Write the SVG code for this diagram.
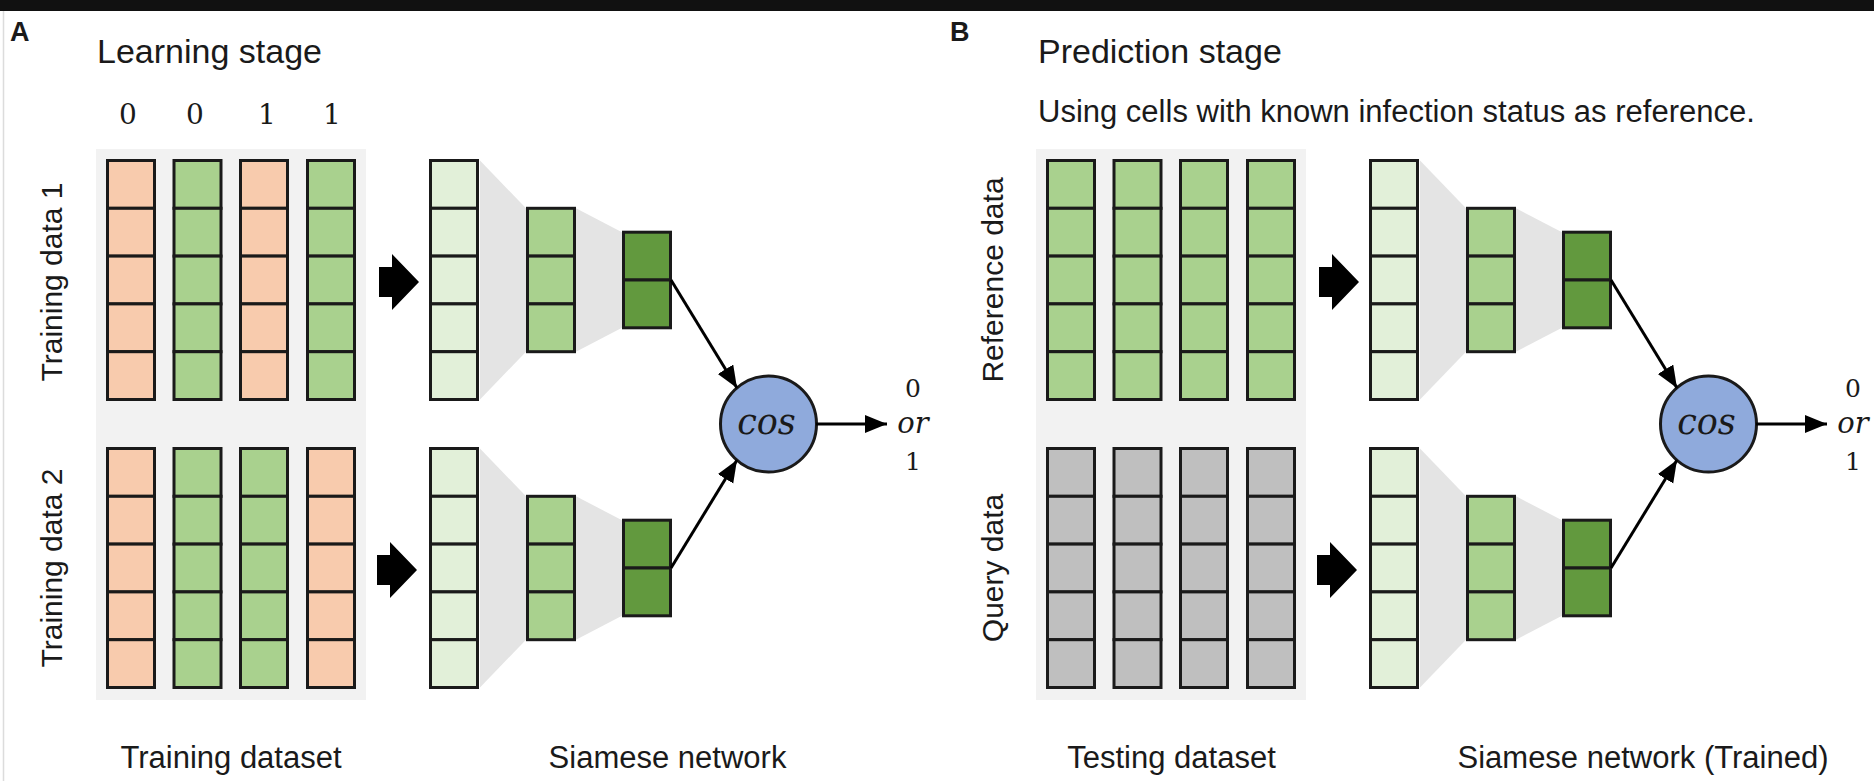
<svg xmlns="http://www.w3.org/2000/svg" width="1874" height="781" viewBox="0 0 1874 781">
<defs>
<style>
.sans{font-family:"Liberation Sans",Arial,sans-serif;fill:#1a1a1a}
.serif{font-family:"DejaVu Serif","Liberation Serif",serif;fill:#1a1a1a}
.cell{stroke:#1a1a1a;stroke-width:3}
.sal{fill:#f8cbad}
.grn{fill:#a9d18e}
.lgr{fill:#e2f0d9}
.dgr{fill:#62993e}
.gry{fill:#bfbfbf}
.panel{fill:#f2f2f2}
.shade{fill:#e4e4e4}
.conn{stroke:#000;stroke-width:3;fill:none}
.cos{fill:#8faadc;stroke:#1a1a1a;stroke-width:3}
</style>
<marker id="ah" markerUnits="userSpaceOnUse" markerWidth="24" markerHeight="20" refX="22" refY="9" orient="auto">
<path d="M0,0 L22,9 L0,18 Z" fill="#000"/>
</marker>
<g id="col5s" class="cell">
<rect x="0" y="0" width="47" height="47.8"/><rect x="0" y="47.8" width="47" height="47.8"/><rect x="0" y="95.6" width="47" height="47.8"/><rect x="0" y="143.4" width="47" height="47.8"/><rect x="0" y="191.2" width="47" height="47.8"/>
</g>
<g id="col3" class="cell grn">
<rect x="0" y="0" width="47" height="47.8"/><rect x="0" y="47.8" width="47" height="47.8"/><rect x="0" y="95.6" width="47" height="47.8"/>
</g>
<g id="col2" class="cell dgr">
<rect x="0" y="0" width="47" height="47.8"/><rect x="0" y="47.8" width="47" height="47.8"/>
</g>
<path id="blk" d="M0,-15 L13,-15 L13,-28 L40,0 L13,28 L13,15 L0,15 Z" fill="#000"/>
</defs>
<rect x="0" y="0" width="1874" height="781" fill="#ffffff"/>
<rect x="0" y="0" width="1874" height="11" fill="#111111"/>
<line x1="3.5" y1="11" x2="3.5" y2="781" stroke="#dcdcdc" stroke-width="1.5"/>

<!-- ================= PANEL A ================= -->
<g id="panelA-labels">
<text x="10" y="41" class="sans" font-size="27" font-weight="bold">A</text>
<text x="97" y="62.7" class="sans" font-size="34">Learning stage</text>
<text x="128" y="124" class="serif" font-size="28" text-anchor="middle">0</text>
<text x="195" y="124" class="serif" font-size="28" text-anchor="middle">0</text>
<text x="267" y="124" class="serif" font-size="28" text-anchor="middle">1</text>
<text x="332" y="124" class="serif" font-size="28" text-anchor="middle">1</text>
<text transform="translate(62,282) rotate(-90)" class="sans" font-size="30" text-anchor="middle">Training data 1</text>
<text transform="translate(62,568) rotate(-90)" class="sans" font-size="30" text-anchor="middle">Training data 2</text>
<text x="231" y="768" class="sans" font-size="31" text-anchor="middle">Training dataset</text>
<text x="667.5" y="768" class="sans" font-size="31" text-anchor="middle">Siamese network</text>
</g>

<g id="trainingDataset">
<rect x="96" y="149" width="270" height="551" class="panel"/>
<use href="#col5s" x="107.5" y="160.5" class="sal"/>
<use href="#col5s" x="174" y="160.5" class="grn"/>
<use href="#col5s" x="240.5" y="160.5" class="sal"/>
<use href="#col5s" x="307.5" y="160.5" class="grn"/>
<use href="#col5s" x="107.5" y="448.5" class="sal"/>
<use href="#col5s" x="174" y="448.5" class="grn"/>
<use href="#col5s" x="240.5" y="448.5" class="grn"/>
<use href="#col5s" x="307.5" y="448.5" class="sal"/>
</g>

<g id="siameseA-top">
<polygon points="480,160.5 526,208.3 526,351.7 480,399.5" class="shade"/>
<polygon points="576,208.3 622,232.2 622,327.8 576,351.7" class="shade"/>
<use href="#col5s" x="430.5" y="160.5" class="lgr"/>
<use href="#col3" x="527.5" y="208.3"/>
<use href="#col2" x="623.5" y="232.2"/>
</g>
<g id="siameseA-bottom">
<polygon points="480,448.5 526,496.3 526,639.7 480,687.5" class="shade"/>
<polygon points="576,496.3 622,520.2 622,615.8 576,639.7" class="shade"/>
<use href="#col5s" x="430.5" y="448.5" class="lgr"/>
<use href="#col3" x="527.5" y="496.3"/>
<use href="#col2" x="623.5" y="520.2"/>
</g>

<g id="cosA">
<circle cx="768.5" cy="424" r="48" class="cos"/>
<text x="766.5" y="434" class="serif" font-size="35" font-style="italic" text-anchor="middle">cos</text>
</g>
<g id="outputA">
<text x="913" y="397" class="serif" font-size="25" text-anchor="middle">0</text>
<text x="913" y="433" class="serif" font-size="29" font-style="italic" text-anchor="middle">or</text>
<text x="913" y="470" class="serif" font-size="25" text-anchor="middle">1</text>
</g>

<!-- ================= PANEL B ================= -->
<g id="panelB-labels">
<text x="950" y="41" class="sans" font-size="27" font-weight="bold">B</text>
<text x="1038" y="62.7" class="sans" font-size="34">Prediction stage</text>
<text x="1038" y="121.7" class="sans" font-size="31">Using cells with known infection status as reference.</text>
<text transform="translate(1003,280) rotate(-90)" class="sans" font-size="30" text-anchor="middle">Reference data</text>
<text transform="translate(1003,568) rotate(-90)" class="sans" font-size="30" text-anchor="middle">Query data</text>
<text x="1171.5" y="768" class="sans" font-size="31" text-anchor="middle">Testing dataset</text>
<text x="1643" y="768" class="sans" font-size="31" text-anchor="middle">Siamese network (Trained)</text>
</g>

<g id="testingDataset">
<rect x="1036" y="149" width="270" height="551" class="panel"/>
<use href="#col5s" x="1047.5" y="160.5" class="grn"/>
<use href="#col5s" x="1114" y="160.5" class="grn"/>
<use href="#col5s" x="1180.5" y="160.5" class="grn"/>
<use href="#col5s" x="1247.5" y="160.5" class="grn"/>
<use href="#col5s" x="1047.5" y="448.5" class="gry"/>
<use href="#col5s" x="1114" y="448.5" class="gry"/>
<use href="#col5s" x="1180.5" y="448.5" class="gry"/>
<use href="#col5s" x="1247.5" y="448.5" class="gry"/>
</g>

<g id="siameseB-top">
<polygon points="1420,160.5 1466,208.3 1466,351.7 1420,399.5" class="shade"/>
<polygon points="1516,208.3 1562,232.2 1562,327.8 1516,351.7" class="shade"/>
<use href="#col5s" x="1370.5" y="160.5" class="lgr"/>
<use href="#col3" x="1467.5" y="208.3"/>
<use href="#col2" x="1563.5" y="232.2"/>
</g>
<g id="siameseB-bottom">
<polygon points="1420,448.5 1466,496.3 1466,639.7 1420,687.5" class="shade"/>
<polygon points="1516,496.3 1562,520.2 1562,615.8 1516,639.7" class="shade"/>
<use href="#col5s" x="1370.5" y="448.5" class="lgr"/>
<use href="#col3" x="1467.5" y="496.3"/>
<use href="#col2" x="1563.5" y="520.2"/>
</g>

<g id="cosB">
<circle cx="1708.5" cy="424" r="48" class="cos"/>
<text x="1706.5" y="434" class="serif" font-size="35" font-style="italic" text-anchor="middle">cos</text>
</g>
<g id="outputB">
<text x="1853" y="397" class="serif" font-size="25" text-anchor="middle">0</text>
<text x="1853" y="433" class="serif" font-size="29" font-style="italic" text-anchor="middle">or</text>
<text x="1853" y="470" class="serif" font-size="25" text-anchor="middle">1</text>
</g>

<!-- ================= CONNECTORS ================= -->
<g id="connectors">
<use href="#blk" x="379" y="282"/>
<use href="#blk" x="377" y="570"/>
<use href="#blk" x="1319" y="282"/>
<use href="#blk" x="1317" y="570"/>
<line x1="671" y1="280" x2="737" y2="388" class="conn" marker-end="url(#ah)"/>
<line x1="671" y1="568" x2="737" y2="460" class="conn" marker-end="url(#ah)"/>
<line x1="816" y1="424" x2="887" y2="424" class="conn" marker-end="url(#ah)"/>
<line x1="1611" y1="280" x2="1677" y2="388" class="conn" marker-end="url(#ah)"/>
<line x1="1611" y1="568" x2="1677" y2="460" class="conn" marker-end="url(#ah)"/>
<line x1="1756" y1="424" x2="1827" y2="424" class="conn" marker-end="url(#ah)"/>
</g>
</svg>
